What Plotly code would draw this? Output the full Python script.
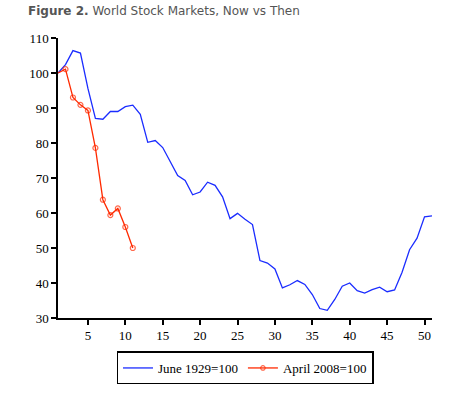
import plotly.graph_objects as go

weeks_1929 = list(range(1, 52))
june_1929 = [100, 102.4, 106.4, 105.7, 95.6, 87.0, 86.8, 89.0, 89.0, 90.4,
             90.8, 88.2, 80.2, 80.7, 78.7, 74.5, 70.7, 69.3, 65.2, 66.0,
             68.8, 67.9, 64.6, 58.4, 59.9, 58.2, 56.7, 46.4, 45.7, 44.0,
             38.6, 39.5, 40.7, 39.6, 36.7, 32.7, 32.2, 35.3, 39.1, 40.0,
             37.8, 37.1, 38.1, 38.8, 37.5, 38.0, 43.1, 49.5, 52.8, 58.9, 59.2]

weeks_2008 = list(range(1, 12))
april_2008 = [100, 101.1, 93.0, 90.9, 89.3, 78.6, 63.8, 59.4, 61.3, 56.0, 50.0]

x_ticks = [5, 10, 15, 20, 25, 30, 35, 40, 45, 50]
y_ticks = [30, 40, 50, 60, 70, 80, 90, 100, 110]

fig = go.Figure()
fig.add_trace(go.Scatter(
    x=weeks_1929, y=june_1929, mode="lines", name="June 1929=100",
    line=dict(color="#1a2cff", width=1.3),
))
fig.add_trace(go.Scatter(
    x=weeks_2008, y=april_2008, mode="lines+markers", name="April 2008=100",
    line=dict(color="#ff2a00", width=1.3),
    marker=dict(symbol="circle-open", size=[0] + [5] * (len(weeks_2008) - 1),
                color="#ff2a00", line=dict(width=1.2)),
))

axis_common = dict(
    showgrid=False, zeroline=False, showline=True, linecolor="black", linewidth=1.5,
    ticks="outside", ticklen=5, tickwidth=1.5, tickcolor="black",
    tickfont=dict(family="Liberation Serif", size=13, color="black"),
    automargin=False,
)
fig.update_xaxes(range=[1, 51], tickvals=x_ticks, **axis_common)
fig.update_yaxes(range=[30, 110], tickvals=y_ticks, **axis_common)

fig.update_layout(
    width=474, height=394,
    margin=dict(l=58, r=42, t=38, b=76),
    paper_bgcolor="white", plot_bgcolor="white",
    showlegend=True,
    legend=dict(
        orientation="h", xref="paper", x=0.5, xanchor="center",
        yref="container", y=0.066, yanchor="middle",
        bordercolor="black", borderwidth=1.5,
        font=dict(family="Liberation Serif", size=13, color="black"),
        itemwidth=30, tracegroupgap=0,
    ),
    annotations=[dict(
        text="<b>Figure 2.</b> World Stock Markets, Now vs Then",
        xref="paper", yref="paper", x=-0.0857, y=1.0, xanchor="left", yanchor="middle",
        yshift=27, showarrow=False,
        font=dict(family="DejaVu Sans", size=12, color="#555555"),
    )],
)

fig.write_html("out.html", config={"displayModeBar": False},
               post_script="document.body.style.margin='0';")
